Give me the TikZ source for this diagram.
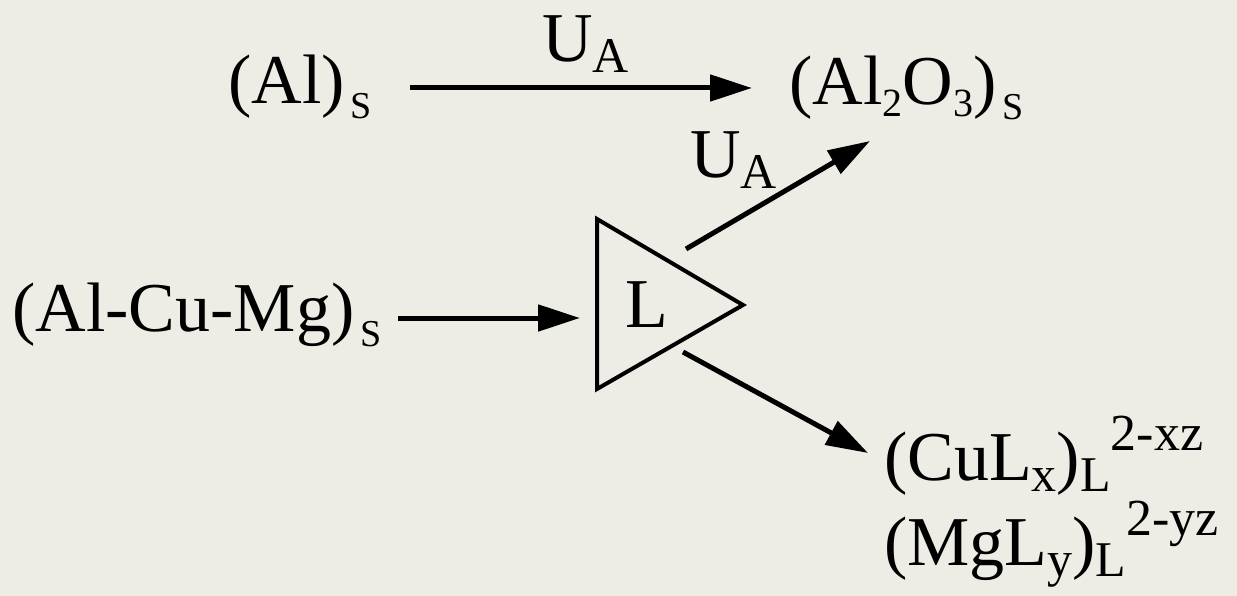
\documentclass[tikz,border=0pt]{standalone}
\usepackage{fontspec}
\setmainfont{Liberation Serif}
\usetikzlibrary{arrows.meta}
\definecolor{paper}{RGB}{238,237,229}
% indices: phase S, counts 2 and 3, other indices, charges
\newcommand{\sS}{\hspace{6pt}\raisebox{-15pt}{\fontsize{38}{38}\selectfont S}}
\newcommand{\nn}[1]{\raisebox{-12pt}{\fontsize{40}{40}\selectfont #1}}
\newcommand{\lo}[1]{\raisebox{-11pt}{\fontsize{50}{50}\selectfont #1}}
\newcommand{\hi}[1]{\raisebox{30pt}{\fontsize{52}{52}\selectfont #1}}

\begin{document}
\begin{tikzpicture}
  [x=1pt,y=-1pt,
   every node/.style={inner sep=0pt,anchor=base west,font=\fontsize{70}{70}\selectfont},
   arr/.style={-{Triangle[length=42pt,width=26pt]},line width=5pt},
   tri/.style={line width=4pt,line join=miter}]
  \fill[paper] (0,0) rectangle (1237,596);
  % species
  \node (al)  at (228,104) {(Al)\sS};
  \node (alo) at (789,105) {(Al\nn{2}O\nn{3})\sS};
  \node (acm) at (12,331) {(Al-Cu-Mg)\sS};
  \node (cu)  at (884,480) {(CuL\lo{x})\lo{L}\hi{2-xz}};
  \node (mg)  at (884,565) {(MgL\lo{y})\lo{L}\hi{2-yz}};
  \node (ua1) at (542,62) {U\lo{A}};
  \node (ua2) at (690,178) {U\lo{A}};
  % triangle
  \coordinate (t1) at (597,219);
  \coordinate (t2) at (743,305);
  \coordinate (t3) at (597,389);
  \draw[tri] (t1) -- (t2) -- (t3) -- cycle;
  \node[anchor=center] (liq) at (647,305) {L};
  % arrows
  \coordinate (s1) at (410,88);  \coordinate (e1) at (752,88);
  \coordinate (s2) at (398,318); \coordinate (e2) at (580,318);
  \coordinate (s3) at (686,249); \coordinate (e3) at (870,141);
  \coordinate (s4) at (683,352); \coordinate (e4) at (868,453);
  \foreach \from/\to in {s1/e1,s2/e2,s3/e3,s4/e4}
    \draw[arr] (\from) -- (\to);
\end{tikzpicture}
\end{document}
